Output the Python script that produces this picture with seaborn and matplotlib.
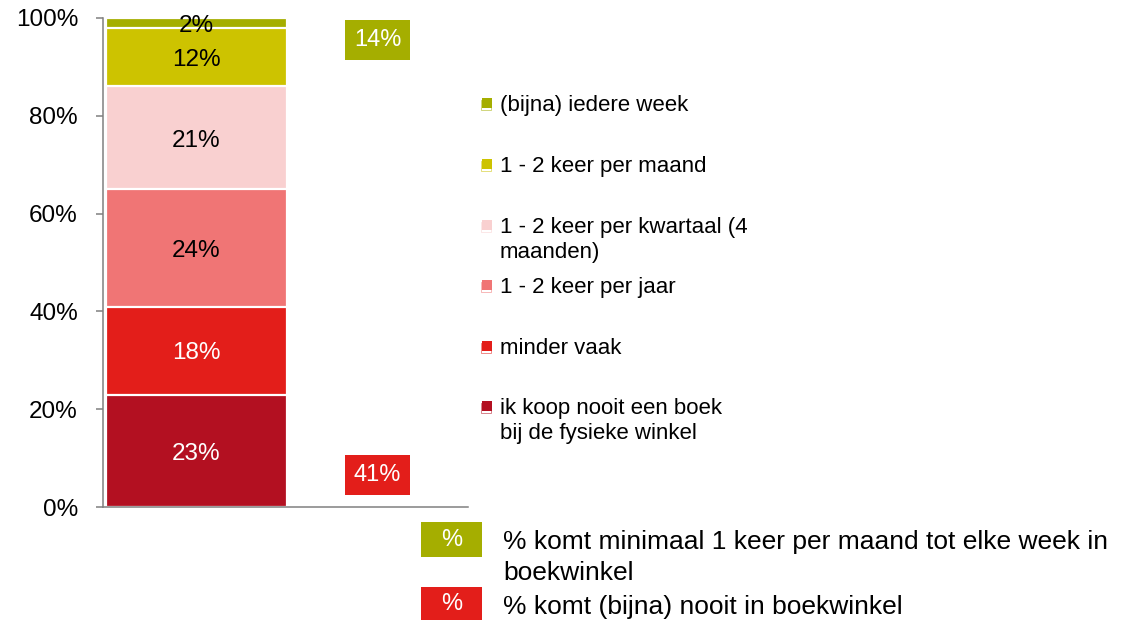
import matplotlib
matplotlib.use("Agg")
import matplotlib.pyplot as plt
import numpy as np
import pandas as pd
import seaborn as sns
from matplotlib.patches import Rectangle

# data (bottom segment first)
categories = ["ik koop nooit een boek\nbij de fysieke winkel", "minder vaak",
              "1 - 2 keer per jaar", "1 - 2 keer per kwartaal (4\nmaanden)",
              "1 - 2 keer per maand", "(bijna) iedere week"]
values = [23, 18, 24, 21, 12, 2]
summary_labels = ["% komt minimaal 1 keer per maand tot elke week in\nboekwinkel",
                  "% komt (bijna) nooit in boekwinkel"]
summary_values = [14, 41]
yticks = [0, 20, 40, 60, 80, 100]

# styles
colors = ["#b31021", "#e31e1a", "#f07575", "#f9d0d0", "#cdc300", "#a5ae00"]
text_colors = ["white", "white", "black", "black", "black", "black"]
summary_colors = ["#a5ae00", "#e31e1a"]
grey = "#808080"

sns.set_theme(style="white")
plt.rcParams["font.family"] = ["Liberation Sans", "DejaVu Sans"]

W, H = 1127, 620
fig = plt.figure(figsize=(W / 100, H / 100), dpi=100)
ax = fig.add_axes([103 / W, 1 - 507 / H, 365 / W, 489 / H])

# stacked bar: draw cumulative totals from the top down
cum = np.cumsum(values)
df = pd.DataFrame({"grp": ["a"] * len(values), "cum": cum, "cat": categories})
for i in range(len(values) - 1, -1, -1):
    sns.barplot(data=df.iloc[[i]], x="grp", y="cum", color=colors[i], width=0.5,
                edgecolor="white", linewidth=1.6, saturation=1, ax=ax)

bottoms = cum - np.array(values)
for v, b, tc in zip(values, bottoms, text_colors):
    ax.text(0, b + v / 2 - 0.6, f"{v}%", ha="center", va="center",
            color=tc, fontsize=17.5)

# summary boxes
summary_y = [95.5, 6.6]
for v, y, c in zip(summary_values, summary_y, summary_colors):
    ax.text(0.5, y, f"{v}%", ha="center", va="center", color="white", fontsize=17,
            bbox=dict(facecolor=c, edgecolor="none", boxstyle="square,pad=0.38"))

ax.set_xlim(-0.258, 0.75)
ax.set_ylim(0, 100)
ax.set_xlabel("")
ax.set_ylabel("")
ax.set_xticks([])
ax.set_yticks(yticks)
ax.set_yticklabels([f"{t}%" for t in yticks], fontsize=17.5)
ax.tick_params(axis="y", direction="out", length=5, width=1.1, color=grey,
               labelcolor="black", left=True, pad=13)
for s in ["top", "right"]:
    ax.spines[s].set_visible(False)
for s in ["left", "bottom"]:
    ax.spines[s].set_color(grey)
    ax.spines[s].set_linewidth(1.1)

# category legend (top item first)
leg_y = [103, 164, 225, 285, 346, 406]
fs_leg = 16
em = fs_leg * 100 / 72
for lab, c, yc in zip(categories[::-1], colors[::-1], leg_y):
    fig.patches.append(Rectangle(((482 - 1.5) / W, 1 - (yc + 6.5) / H), 10 / W, 10 / H,
                                 transform=fig.transFigure, facecolor="white",
                                 edgecolor=c, linewidth=0.6, alpha=0.6))
    fig.patches.append(Rectangle((482 / W, 1 - (yc + 5) / H), 10 / W, 10 / H,
                                 transform=fig.transFigure, facecolor=c,
                                 edgecolor="none"))
    fig.text(500 / W, 1 - (yc - 0.37 * em) / H, lab, ha="left", va="top",
             fontsize=fs_leg, color="black", linespacing=1.25)

# summary legend
box_top = [522, 587]
text_y = [540, 605]
fs_sum = 19
em = fs_sum * 100 / 72
for lab, c, bt, ty in zip(summary_labels, summary_colors, box_top, text_y):
    fig.patches.append(Rectangle((421 / W, 1 - (bt + 35) / H), 61 / W, 35 / H,
                                 transform=fig.transFigure, facecolor=c,
                                 edgecolor="none"))
    fig.text(451.5 / W, 1 - (bt + 17.5) / H, "%", ha="center", va="center",
             color="white", fontsize=17)
    fig.text(503 / W, 1 - (ty - 0.37 * em) / H, lab, ha="left", va="top",
             fontsize=fs_sum, color="black", linespacing=1.35)

fig.savefig("out.png", dpi=100)
